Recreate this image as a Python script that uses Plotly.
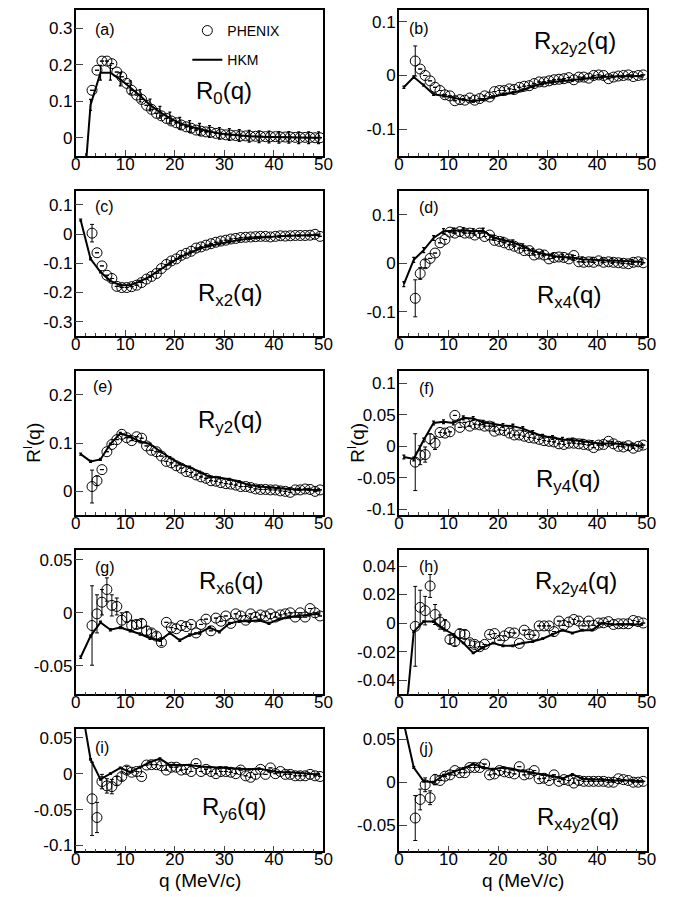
import plotly.graph_objects as go

# q grids (MeV/c)
q_phenix = [3.3, 4.3, 5.3, 6.3, 7.3, 8.3, 9.3, 10.3, 11.3, 12.3,
            13.3, 14.3, 15.3, 16.3, 17.3, 18.3, 19.3, 20.3, 21.3, 22.3,
            23.3, 24.3, 25.3, 26.3, 27.3, 28.3, 29.3, 30.3, 31.3, 32.3,
            33.3, 34.3, 35.3, 36.3, 37.3, 38.3, 39.3, 40.3, 41.3, 42.3,
            43.3, 44.3, 45.3, 46.3, 47.3, 48.3, 49.3]
q_hkm = [1, 3, 5, 7, 9, 11, 13, 15, 17, 19, 21, 23, 25, 27, 29, 31, 33, 35, 37, 39, 41, 43, 45, 47, 49]

NO = None  # no visible error bar

# (a) R_0
r0_phenix = [0.130, 0.185, 0.210, 0.210, 0.203, 0.180, 0.167, 0.149, 0.130, 0.117,
             0.105, 0.089, 0.078, 0.067, 0.060, 0.053, 0.046, 0.041, 0.035, 0.030,
             0.026, 0.021, 0.018, 0.016, 0.015, 0.012, 0.010, 0.008, 0.007, 0.006,
             0.005, 0.005, 0.004, 0.004, 0.004, 0.003, 0.003, 0.003, 0.002, 0.002,
             0.002, 0.001, 0.001, 0.001, 0.001, 0.000, 0.000]
r0_phenix_err = [NO] * 47
r0_hkm = [-0.26, 0.09, 0.178, 0.178, 0.16, 0.138, 0.115, 0.09, 0.07, 0.054,
          0.04, 0.031, 0.023, 0.017, 0.012, 0.009, 0.006, 0.004, 0.003, 0.002,
          0.001, 0.001, 0.0, 0.0, 0.0]
r0_hkm_err = [0.02, 0.015, 0.02, 0.02, 0.018, 0.018, 0.017, 0.016, 0.016, 0.016,
              0.016, 0.016, 0.016, 0.016, 0.016, 0.016, 0.016, 0.016, 0.016, 0.016,
              0.016, 0.016, 0.016, 0.016, 0.016]

# (b) R_x2y2
rx2y2_phenix = [0.027, 0.012, 0.000, -0.010, -0.022, -0.028, -0.036, -0.038, -0.047, -0.045,
                -0.046, -0.042, -0.046, -0.043, -0.038, -0.040, -0.030, -0.028, -0.028, -0.025,
                -0.026, -0.022, -0.020, -0.019, -0.015, -0.012, -0.012, -0.010, -0.008, -0.007,
                -0.006, -0.004, -0.008, -0.003, -0.003, -0.005, 0.000, 0.001, 0.000, -0.006,
                -0.003, -0.001, 0.000, 0.001, -0.002, 0.000, 0.001]
rx2y2_phenix_err = [0.028] + [NO] * 46
rx2y2_hkm = [-0.022, -0.003, -0.018, -0.035, -0.038, -0.042, -0.045, -0.048, -0.045, -0.04,
             -0.035, -0.032, -0.027, -0.02, -0.015, -0.012, -0.01, -0.009, -0.006, -0.004,
             -0.003, -0.002, -0.002, -0.001, -0.001]
rx2y2_hkm_err = [0.002] * 25

# (c) R_x2
rx2_phenix = [0.003, -0.064, -0.109, -0.141, -0.152, -0.179, -0.183, -0.183, -0.180, -0.175,
              -0.166, -0.154, -0.145, -0.135, -0.118, -0.104, -0.092, -0.085, -0.073, -0.066,
              -0.059, -0.048, -0.044, -0.038, -0.033, -0.028, -0.024, -0.021, -0.017, -0.015,
              -0.012, -0.011, -0.010, -0.009, -0.008, -0.008, -0.010, -0.008, -0.006, -0.007,
              -0.006, -0.005, -0.005, -0.005, -0.004, -0.001, -0.008]
rx2_phenix_err = [0.03] + [NO] * 46
rx2_hkm = [0.048, -0.085, -0.13, -0.16, -0.175, -0.175, -0.162, -0.145, -0.122, -0.1,
           -0.08, -0.065, -0.05, -0.04, -0.033, -0.026, -0.02, -0.015, -0.012, -0.01,
           -0.008, -0.006, -0.005, -0.004, -0.003]
rx2_hkm_err = [0.003] * 25

# (d) R_x4
rx4_phenix = [-0.072, -0.021, -0.001, 0.010, 0.021, 0.042, 0.049, 0.064, 0.062, 0.065,
              0.062, 0.062, 0.058, 0.062, 0.055, 0.058, 0.047, 0.045, 0.042, 0.038,
              0.035, 0.031, 0.026, 0.026, 0.017, 0.019, 0.017, 0.009, 0.012, 0.013,
              0.012, 0.009, 0.016, 0.003, 0.002, 0.003, 0.002, 0.005, 0.002, 0.003,
              0.002, 0.001, 0.000, -0.001, 0.002, 0.003, 0.001]
rx4_phenix_err = [0.038, 0.012, 0.008] + [NO] * 44
rx4_hkm = [-0.043, 0.007, 0.027, 0.052, 0.066, 0.067, 0.068, 0.066, 0.067, 0.053,
           0.048, 0.043, 0.035, 0.025, 0.02, 0.015, 0.013, 0.012, 0.008, 0.007,
           0.006, 0.005, 0.004, 0.003, 0.003]
rx4_hkm_err = [0.005] * 25

# (e) R_y2
ry2_phenix = [0.010, 0.022, 0.045, 0.082, 0.097, 0.107, 0.118, 0.111, 0.105, 0.113,
              0.110, 0.094, 0.085, 0.082, 0.073, 0.062, 0.059, 0.053, 0.048, 0.041,
              0.039, 0.034, 0.030, 0.027, 0.022, 0.021, 0.018, 0.016, 0.015, 0.013,
              0.010, 0.010, 0.008, 0.005, 0.004, 0.004, 0.003, 0.003, 0.001, 0.000,
              -0.002, 0.003, 0.003, 0.005, 0.004, 0.000, 0.003]
ry2_phenix_err = [0.034, 0.01] + [NO] * 45
ry2_hkm = [0.077, 0.062, 0.066, 0.098, 0.12, 0.113, 0.103, 0.098, 0.083, 0.07,
           0.057, 0.05, 0.04, 0.03, 0.028, 0.025, 0.02, 0.013, 0.01, 0.008,
           0.007, 0.005, 0.004, 0.004, 0.003]
ry2_hkm_err = [0.002] * 25

# (f) R_y4
ry4_phenix = [-0.025, -0.014, -0.013, 0.012, 0.005, 0.022, 0.021, 0.023, 0.049, 0.030,
              0.038, 0.032, 0.035, 0.034, 0.032, 0.032, 0.024, 0.026, 0.025, 0.021,
              0.018, 0.018, 0.016, 0.014, 0.013, 0.011, 0.009, 0.008, 0.007, 0.004,
              0.003, 0.005, 0.005, 0.004, 0.003, 0.002, -0.002, 0.002, 0.003, 0.008,
              0.004, 0.000, -0.001, 0.001, -0.003, 0.000, 0.002]
ry4_phenix_err = [0.045, 0.015, 0.012, 0.008, 0.01] + [NO] * 42
ry4_hkm = [-0.017, -0.02, 0.01, 0.037, 0.039, 0.037, 0.045, 0.044, 0.038, 0.035,
           0.033, 0.032, 0.028, 0.022, 0.016, 0.014, 0.011, 0.01, 0.008, 0.006,
           0.004, 0.005, 0.003, 0.002, 0.001]
ry4_hkm_err = [0.003] * 25

# (g) R_x6
rx6_phenix = [-0.012, -0.001, 0.010, 0.022, 0.007, 0.006, -0.007, -0.004, -0.012, -0.011,
              -0.010, -0.017, -0.019, -0.022, -0.028, -0.009, -0.014, -0.015, -0.012, -0.013,
              -0.011, -0.019, -0.011, -0.006, -0.017, -0.005, -0.008, -0.003, -0.010, -0.001,
              -0.003, -0.007, -0.001, -0.004, -0.002, -0.003, -0.001, -0.004, -0.002, -0.001,
              0.000, -0.004, 0.000, -0.004, 0.004, 0.000, -0.003]
rx6_phenix_err = [0.0375, 0.018, 0.012, 0.011, 0.01, 0.008, 0.007, 0.005, 0.005, 0.004,
                  0.004, 0.004, 0.003, 0.003, 0.003] + [NO] * 32
rx6_hkm = [-0.042, -0.022, -0.009, -0.016, -0.014, -0.017, -0.02, -0.024, -0.026, -0.019,
           -0.026, -0.021, -0.019, -0.014, -0.018, -0.01, -0.008, -0.008, -0.007, -0.01,
           -0.006, -0.004, -0.003, -0.002, -0.001]
rx6_hkm_err = [0.001] * 25

# (h) R_x2y4
rx2y4_phenix = [-0.0023, 0.011, 0.0087, 0.026, 0.006, 0.0007, -0.0016, -0.0115, -0.013, -0.0074,
                -0.008, -0.0138, -0.015, -0.0166, -0.015, -0.008, -0.0074, -0.012, -0.009, -0.0067,
                -0.007, -0.0143, -0.005, -0.008, -0.0085, -0.002, -0.002, -0.002, -0.006, 0.0014,
                -0.0016, 0.0007, 0.0025, 0.0014, -0.002, 0.0014, -0.0016, 0.0, 0.0002, 0.001,
                -0.001, -0.0005, -0.0005, -0.0005, 0.0018, 0.001, 0.0]
rx2y4_phenix_err = [0.028, 0.012, 0.01, 0.008, 0.007, 0.005, 0.004, 0.003, 0.003, 0.003,
                    0.003, 0.002, 0.002] + [NO] * 34
rx2y4_hkm = [-0.08, -0.006, 0.001, 0.001, -0.004, -0.008, -0.014, -0.021, -0.017, -0.014,
             -0.016, -0.016, -0.014, -0.013, -0.011, -0.008, -0.005, -0.007, -0.005, -0.005,
             0.0, -0.001, -0.001, -0.001, -0.001]
rx2y4_hkm_err = [0.0005] * 25

# (i) R_y6
ry6_phenix = [-0.035, -0.061, -0.011, -0.017, -0.018, -0.010, -0.004, 0.005, 0.002, 0.003,
              -0.004, 0.012, 0.0125, 0.0125, 0.011, 0.005, 0.009, 0.009, 0.005, 0.006,
              0.003, 0.014, 0.003, 0.006, 0.003, 0.000, 0.003, 0.003, 0.002, 0.000,
              0.005, -0.003, -0.005, -0.001, 0.006, -0.001, 0.008, 0.000, 0.003, -0.001,
              -0.001, -0.003, -0.003, -0.003, -0.001, -0.003, -0.004]
ry6_phenix_err = [0.051, 0.021, 0.01, 0.01, 0.01, 0.006, 0.005, 0.005] + [NO] * 39
ry6_hkm = [0.1, 0.02, -0.008, 0.0, 0.008, 0.002, 0.009, 0.016, 0.021, 0.012,
           0.012, 0.012, 0.01, 0.009, 0.008, 0.007, 0.007, 0.006, 0.007, 0.004,
           0.002, 0.002, 0.001, 0.0, -0.001]
ry6_hkm_err = [0.001] * 25

# (j) R_x4y2
rx4y2_phenix = [-0.0415, -0.020, -0.003, -0.018, 0.003, 0.002, 0.007, 0.0085, 0.0135, 0.011,
                0.011, 0.017, 0.017, 0.017, 0.021, 0.0085, 0.0096, 0.0135, 0.012, 0.011,
                0.0096, 0.018, 0.0085, 0.0096, 0.0135, 0.004, 0.0046, 0.002, 0.0085, 0.001,
                0.003, 0.002, -0.001, 0.002, 0.001, 0.001, 0.001, 0.001, 0.001, 0.0,
                0.0, 0.004, 0.003, 0.002, 0.0, 0.0, 0.001]
rx4y2_phenix_err = [0.026, 0.012, 0.008, 0.008, 0.006] + [NO] * 42
rx4y2_hkm = [0.068, 0.017, 0.001, 0.0, 0.008, 0.012, 0.016, 0.021, 0.017, 0.015,
             0.017, 0.015, 0.013, 0.011, 0.009, 0.007, 0.004, 0.009, 0.004, 0.003,
             0.003, 0.002, 0.002, 0.002, 0.001]
rx4y2_hkm_err = [0.001] * 25

x_ticks = [0, 10, 20, 30, 40, 50]
x_ticktext = ["0", "10", "20", "30", "40", "50"]

panels = [
    dict(tag="(a)", name="R<sub>0</sub>(q)", ph=r0_phenix, phe=r0_phenix_err, hk=r0_hkm, hke=r0_hkm_err,
         yr=[-0.05, 0.35], yt=[0, 0.1, 0.2, 0.3], ytt=["0", "0.1", "0.2", "0.3"]),
    dict(tag="(b)", name="R<sub>x2y2</sub>(q)", ph=rx2y2_phenix, phe=rx2y2_phenix_err, hk=rx2y2_hkm, hke=rx2y2_hkm_err,
         yr=[-0.15, 0.122], yt=[-0.1, 0, 0.1], ytt=["-0.1", "0", "0.1"]),
    dict(tag="(c)", name="R<sub>x2</sub>(q)", ph=rx2_phenix, phe=rx2_phenix_err, hk=rx2_hkm, hke=rx2_hkm_err,
         yr=[-0.348, 0.148], yt=[-0.3, -0.2, -0.1, 0, 0.1], ytt=["-0.3", "-0.2", "-0.1", "0", "0.1"]),
    dict(tag="(d)", name="R<sub>x4</sub>(q)", ph=rx4_phenix, phe=rx4_phenix_err, hk=rx4_hkm, hke=rx4_hkm_err,
         yr=[-0.149, 0.149], yt=[-0.1, 0, 0.1], ytt=["-0.1", "0", "0.1"]),
    dict(tag="(e)", name="R<sub>y2</sub>(q)", ph=ry2_phenix, phe=ry2_phenix_err, hk=ry2_hkm, hke=ry2_hkm_err,
         yr=[-0.048, 0.25], yt=[0, 0.1, 0.2], ytt=["0", "0.1", "0.2"]),
    dict(tag="(f)", name="R<sub>y4</sub>(q)", ph=ry4_phenix, phe=ry4_phenix_err, hk=ry4_hkm, hke=ry4_hkm_err,
         yr=[-0.108, 0.12], yt=[-0.1, -0.05, 0, 0.05, 0.1], ytt=["-0.1", "-0.05", "0", "0.05", "0.1"]),
    dict(tag="(g)", name="R<sub>x6</sub>(q)", ph=rx6_phenix, phe=rx6_phenix_err, hk=rx6_hkm, hke=rx6_hkm_err,
         yr=[-0.077, 0.059], yt=[-0.05, 0, 0.05], ytt=["-0.05", "0", "0.05"]),
    dict(tag="(h)", name="R<sub>x2y4</sub>(q)", ph=rx2y4_phenix, phe=rx2y4_phenix_err, hk=rx2y4_hkm, hke=rx2y4_hkm_err,
         yr=[-0.05, 0.051], yt=[-0.04, -0.02, 0, 0.02, 0.04], ytt=["-0.04", "-0.02", "0", "0.02", "0.04"]),
    dict(tag="(i)", name="R<sub>y6</sub>(q)", ph=ry6_phenix, phe=ry6_phenix_err, hk=ry6_hkm, hke=ry6_hkm_err,
         yr=[-0.108, 0.062], yt=[-0.1, -0.05, 0, 0.05], ytt=["-0.1", "-0.05", "0", "0.05"]),
    dict(tag="(j)", name="R<sub>x4y2</sub>(q)", ph=rx4y2_phenix, phe=rx4y2_phenix_err, hk=rx4y2_hkm, hke=rx4y2_hkm_err,
         yr=[-0.08, 0.0615], yt=[-0.05, 0, 0.05], ytt=["-0.05", "0", "0.05"]),
]

# the page body has an 8px margin, so the figure is drawn 8px in from the window edge
OFF = 8
W, H = 688 - OFF, 897 - OFF
FONT = "Liberation Sans, Arial, sans-serif"
TICK = 17


def px(x):
    return (x - OFF) / W


def py(y):
    return 1 - (y - OFF) / H


col_x = [(72, 325), (402, 655)]
row_y = [(9, 156), (191, 337), (372, 517), (553, 698), (733, 856)]

# label positions (window pixels): tag, big name
tag_pos = [(90, 29), (410, 28), (90, 207), (420, 208), (88, 388),
           (420, 390), (90, 570), (420, 569), (90, 752), (420, 753)]
name_pos = [(193, 92), (538, 42), (195, 295), (541, 297), (195, 423),
            (540, 483), (196, 585), (539, 585), (199, 813), (541, 823)]

fig = go.Figure()
layout = {}
annotations = []

for i, p in enumerate(panels):
    sfx = "" if i == 0 else str(i + 1)
    r, c = divmod(i, 2)
    xa, ya = "x" + sfx, "y" + sfx

    fig.add_trace(go.Scatter(
        x=q_hkm, y=p["hk"], mode="lines", name="HKM",
        line=dict(color="black", width=2),
        error_y=dict(type="data", array=p["hke"], color="black", thickness=1.3, width=1.5),
        xaxis=xa, yaxis=ya, showlegend=(i == 0), legendgroup="hkm", legendrank=2,
    ))
    fig.add_trace(go.Scatter(
        x=q_phenix, y=p["ph"], mode="markers", name="PHENIX",
        marker=dict(symbol="circle-open", size=10, color="black", line=dict(width=1)),
        error_y=dict(type="data", array=p["phe"], color="black", thickness=1, width=2),
        xaxis=xa, yaxis=ya, showlegend=(i == 0), legendgroup="phenix", legendrank=1,
    ))

    x0, x1 = col_x[c]
    yt, yb = row_y[r]
    layout["xaxis" + sfx] = dict(
        domain=[px(x0), px(x1)], anchor=ya, range=[0, 50],
        tickvals=x_ticks, ticktext=x_ticktext, ticks="inside", ticklen=6, tickwidth=1,
        minor=dict(dtick=2, ticks="inside", ticklen=3, tickwidth=1),
        ticklabelstandoff=-8,
        showline=True, mirror=True, linecolor="black", linewidth=1.5,
        showgrid=False, zeroline=False, tickfont=dict(size=TICK, color="black", family=FONT),
    )
    layout["yaxis" + sfx] = dict(
        domain=[py(yb), py(yt)], anchor=xa, range=p["yr"],
        tickvals=p["yt"], ticktext=p["ytt"], ticks="inside", ticklen=8, tickwidth=1,
        ticklabelstandoff=-2,
        showline=True, mirror=True, linecolor="black", linewidth=1.5,
        showgrid=False, zeroline=False, tickfont=dict(size=TICK, color="black", family=FONT),
    )

    tx, ty = tag_pos[i]
    annotations.append(dict(x=px(tx), y=py(ty), xref="paper", yref="paper", text=p["tag"],
                            showarrow=False, xanchor="left", yanchor="middle",
                            font=dict(size=16, color="black", family=FONT)))
    nx, ny = name_pos[i]
    annotations.append(dict(x=px(nx), y=py(ny), xref="paper", yref="paper", text=p["name"],
                            showarrow=False, xanchor="left", yanchor="middle",
                            font=dict(size=24, color="black", family=FONT)))

# axis titles
for cx in (198.5, 528.5):
    annotations.append(dict(x=px(cx), y=0, xref="paper", yref="paper", text="q (MeV/c)",
                            showarrow=False, xanchor="center", yanchor="bottom", borderpad=0,
                            font=dict(size=19, color="black", family=FONT)))
for lx in (27, 358):
    annotations.append(dict(x=px(lx), y=py(445), xref="paper", yref="paper", text="R<sup>l</sup>(q)",
                            showarrow=False, xanchor="center", yanchor="middle", textangle=-90,
                            font=dict(size=19, color="black", family=FONT)))

fig.update_layout(
    width=W, height=H, margin=dict(l=0, r=0, t=0, b=0),
    paper_bgcolor="white", plot_bgcolor="white",
    font=dict(family=FONT, color="black"),
    annotations=annotations,
    legend=dict(x=px(186), y=py(14), xanchor="left", yanchor="top",
                bgcolor="rgba(0,0,0,0)", font=dict(size=14, color="black", family=FONT),
                traceorder="grouped", itemwidth=30, tracegroupgap=8),
    **layout,
)

fig.write_html("out.html")
